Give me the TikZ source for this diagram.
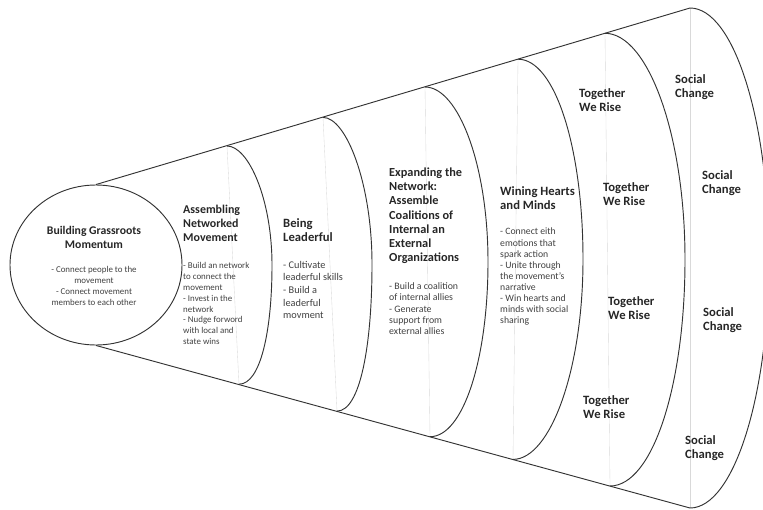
\documentclass[tikz,border=0pt]{standalone}
\usepackage{fontspec}
\setmainfont{Carlito}
\usetikzlibrary{shapes.geometric,calc}
\tikzstyle{fanline} = [line width=0.8pt, draw=black!80]
\tikzstyle{chord} = [line width=0.3pt, draw=black!15]
\tikzstyle{stagetitle} = [font=\bfseries\fontsize{10.5}{12}\selectfont, text=black!85, align=left, anchor=north west, inner sep=0pt]
\tikzstyle{stagetext} = [font=\fontsize{7.6}{9.3}\selectfont, text=black!75, align=left, anchor=north west, inner sep=0pt]
\tikzstyle{goal} = [font=\bfseries\fontsize{10.8}{12}\selectfont, text=black!85, align=left, anchor=north west, inner sep=0pt]

\begin{document}
\begin{tikzpicture}[x=0.03cm, y=-0.03cm]
\useasboundingbox (0,0) rectangle (763,510);
\clip (0,0) rectangle (763,510);
% the base circle
\node (base) [ellipse, fanline, inner sep=0pt, minimum width=5.16cm, minimum height=4.8cm] at (96,265) {};
% points on the two sides of the fan
\coordinate (t1) at (227,146.0);
\coordinate (t2) at (323,117.4);
\coordinate (t3) at (425,87.0);
\coordinate (t4) at (518,59.2);
\coordinate (t5) at (605,33.3);
\coordinate (t6) at (690,8);
\coordinate (b1) at (239,384.2);
\coordinate (b2) at (337,411.1);
\coordinate (b3) at (430,436.7);
\coordinate (b4) at (513,459.4);
\coordinate (b5) at (610,486.0);
\coordinate (b6) at (690,508);
\coordinate (m1) at (272,265.1);
\coordinate (m2) at (372,264.25);
\coordinate (m3) at (488,261.85);
\coordinate (m4) at (583,259.3);
\coordinate (m5) at (685,259.65);
\coordinate (m6) at (769,258);
% faint back edges
\draw[chord] (t1)--(b1);
\draw[chord] (t2)--(b2);
\draw[chord] (t3)--(b3);
\draw[chord] (t4)--(b4);
\draw[chord] (t5)--(b5);
\draw[chord] (t6)--(b6);
% sides
\draw[fanline] (base.north)--(t6);
\draw[fanline] (base.south)--(b6);
% arcs
\draw[fanline] (t1) .. controls +(21.5,0) and +(0,-65.8) .. (m1) .. controls +(0,65.8) and +(21.5,0) .. (b1);
\draw[fanline] (t2) .. controls +(23.2,0) and +(0,-81.1) .. (m2) .. controls +(0,81.1) and +(23.2,0) .. (b2);
\draw[fanline] (t3) .. controls +(33.4,0) and +(0,-96.6) .. (m3) .. controls +(0,96.6) and +(33.4,0) .. (b3);
\draw[fanline] (t4) .. controls +(37.3,0) and +(0,-110.5) .. (m4) .. controls +(0,110.5) and +(37.3,0) .. (b4);
\draw[fanline] (t5) .. controls +(42.8,0) and +(0,-125.0) .. (m5) .. controls +(0,125.0) and +(42.8,0) .. (b5);
\draw[fanline] (t6) .. controls +(43.6,0) and +(0,-138.1) .. (m6) .. controls +(0,138.1) and +(43.6,0) .. (b6);
% texts
\node (grass) [stagetitle, font=\bfseries\fontsize{10}{12}\selectfont, anchor=north, align=center] at (94,226) {Building Grassroots\\Momentum};
\node (grassnote) [stagetext, anchor=north, align=center] at (94,266) {- Connect people to the\\movement\\- Connect movement\\members to each other};
\node (network) [stagetitle, font=\bfseries\fontsize{10.2}{12}\selectfont] at (183,205) {Assembling\\Networked\\Movement};
\node (networknote) [stagetext] at (183,262) {- Build an network\\to connect the\\movement\\- Invest in the\\network\\- Nudge forword\\with local and\\state wins};
\node (leader) [stagetitle, font=\bfseries\fontsize{10.8}{12.2}\selectfont] at (283,218) {Being\\Leaderful};
\node (leadernote) [stagetext, font=\fontsize{8.8}{10.7}\selectfont] at (283,261) {- Cultivate\\leaderful skills\\- Build a\\leaderful\\movment};
\node (expand) [stagetitle] at (389,168) {Expanding the\\Network:\\Assemble\\Coalitions of\\Internal an\\External\\Organizations};
\node (expandnote) [stagetext, font=\fontsize{8.4}{9.8}\selectfont] at (389,282) {- Build a coalition\\of internal allies\\- Generate\\support from\\external allies};
\node (hearts) [stagetitle, font=\bfseries\fontsize{10.8}{12}\selectfont] at (500,186) {Wining Hearts\\and Minds};
\node (heartsnote) [stagetext, font=\fontsize{8.3}{9.4}\selectfont] at (500,228) {- Connect eith\\emotions that\\spark action\\- Unite through\\the movement's\\narrative\\- Win hearts and\\minds with social\\sharing};
\node (rise1) [goal] at (579,88) {Together\\We Rise};
\node (rise2) [goal] at (603,182) {Together\\We Rise};
\node (rise3) [goal] at (608,296) {Together\\We Rise};
\node (rise4) [goal] at (583,395) {Together\\We Rise};
\node (change1) [goal] at (675,74) {Social\\Change};
\node (change2) [goal] at (702,170) {Social\\Change};
\node (change3) [goal] at (703,307) {Social\\Change};
\node (change4) [goal] at (685,435) {Social\\Change};
\end{tikzpicture}
\end{document}
